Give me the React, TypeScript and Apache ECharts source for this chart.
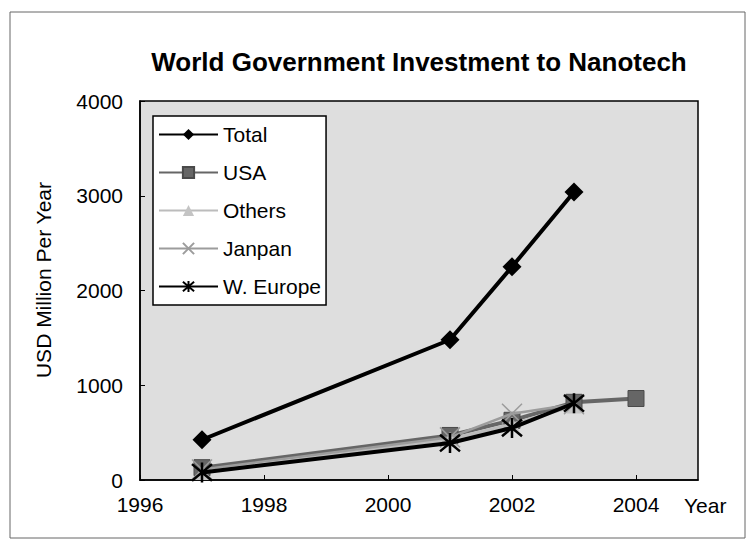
import React, { useEffect, useRef } from 'react';
import * as echarts from 'echarts';

// Government nanotech investment by region (USD million per year)
const years = [1997, 2001, 2002, 2003];
const usaYears = [1997, 2001, 2002, 2003, 2004];
const totalValues = [425, 1480, 2250, 3040];
const usaValues = [130, 470, 630, 820, 860];
const othersValues = [80, 430, 590, 780];
const japanValues = [110, 450, 700, 800];
const westEuropeValues = [80, 390, 550, 810];
const seriesNames = ['Total', 'USA', 'Others', 'Janpan', 'W. Europe'];

const FONT = '"Liberation Sans", Arial, sans-serif';

const pairs = (xs: number[], ys: number[]) => xs.map((x, i) => [x, ys[i]]);

const CROSS = 'path://M0,0L10,10M10,0L0,10';
const STAR = 'path://M0,0L10,10M10,0L0,10M5,-1L5,11';

export default function App() {
  const ref = useRef<HTMLDivElement>(null);

  useEffect(() => {
    if (!ref.current) return;
    const chart = echarts.init(ref.current, undefined, { renderer: 'svg' });
    chart.setOption({
      animation: false,
      backgroundColor: '#ffffff',
      textStyle: { fontFamily: FONT },
      grid: {
        left: 140,
        top: 101,
        right: 49,
        bottom: 60,
        show: true,
        backgroundColor: '#dedede',
        borderColor: '#000000',
        borderWidth: 1.5,
      },
      xAxis: {
        type: 'value',
        min: 1996,
        max: 2005,
        interval: 2,
        axisLine: { show: true, onZero: false, lineStyle: { color: '#000', width: 1.5 } },
        axisTick: { show: true, inside: true, length: 5, lineStyle: { color: '#000' } },
        splitLine: { show: false },
        axisLabel: {
          margin: 14,
          fontSize: 21,
          color: '#000',
          fontFamily: FONT,
          showMaxLabel: false,
          formatter: (v: number) => String(v),
        },
      },
      yAxis: {
        type: 'value',
        min: 0,
        max: 4000,
        interval: 1000,
        axisLine: { show: true, lineStyle: { color: '#000', width: 1.5 } },
        axisTick: { show: true, inside: true, length: 5, lineStyle: { color: '#000' } },
        splitLine: { show: false },
        axisLabel: {
          margin: 17,
          fontSize: 21,
          color: '#000',
          fontFamily: FONT,
          formatter: (v: number) => String(v),
        },
      },
      legend: {
        orient: 'vertical',
        left: 153,
        top: 116,
        padding: [8, 5, 8, 5],
        itemWidth: 59,
        itemHeight: 14,
        itemGap: 17,
        backgroundColor: '#ffffff',
        borderColor: '#000000',
        borderWidth: 1.5,
        textStyle: { fontSize: 21, lineHeight: 21, color: '#000', fontFamily: FONT },
        data: seriesNames,
      },
      graphic: [
        {
          type: 'rect',
          shape: { x: 10, y: 12, width: 735, height: 526 },
          style: { fill: 'none', stroke: '#666', lineWidth: 1 },
          silent: true,
        },
        {
          type: 'text',
          x: 419,
          y: 62,
          style: {
            text: 'World Government Investment to Nanotech',
            fontFamily: FONT,
            fontSize: 26,
            fontWeight: 'bold',
            fill: '#000',
            align: 'center',
            verticalAlign: 'middle',
          },
        },
        {
          type: 'text',
          x: 43,
          y: 280,
          rotation: Math.PI / 2,
          style: {
            text: 'USD Million Per Year',
            fontFamily: FONT,
            fontSize: 21,
            fill: '#000',
            align: 'center',
            verticalAlign: 'middle',
          },
        },
        {
          type: 'text',
          x: 684,
          y: 505,
          style: {
            text: 'Year',
            fontFamily: FONT,
            fontSize: 21,
            fill: '#000',
            align: 'left',
            verticalAlign: 'middle',
          },
        },
      ],
      series: [
        {
          name: 'Total',
          type: 'line',
          data: pairs(years, totalValues),
          symbol: 'diamond',
          symbolSize: 19,
          lineStyle: { color: '#000', width: 4 },
          itemStyle: { color: '#000' },
          z: 5,
        },
        {
          name: 'USA',
          type: 'line',
          data: pairs(usaYears, usaValues),
          symbol: 'rect',
          symbolSize: 16,
          lineStyle: { color: '#666666', width: 4 },
          itemStyle: { color: '#666666', borderColor: '#4a4a4a', borderWidth: 1 },
          z: 2,
        },
        {
          name: 'Others',
          type: 'line',
          data: pairs(years, othersValues),
          symbol: 'triangle',
          symbolSize: 15,
          lineStyle: { color: '#bcbcbc', width: 3 },
          itemStyle: { color: '#c4c4c4' },
          z: 3,
        },
        {
          name: 'Janpan',
          type: 'line',
          data: pairs(years, japanValues),
          symbol: CROSS,
          symbolSize: 20,
          lineStyle: { color: '#9c9c9c', width: 2.5 },
          itemStyle: { color: 'none', borderColor: '#9c9c9c', borderWidth: 1.5 },
          z: 3,
        },
        {
          name: 'W. Europe',
          type: 'line',
          data: pairs(years, westEuropeValues),
          symbol: STAR,
          symbolSize: 20,
          lineStyle: { color: '#000', width: 4 },
          itemStyle: { color: 'none', borderColor: '#000', borderWidth: 2.5 },
          z: 4,
        },
      ],
    });
    return () => chart.dispose();
  }, []);

  return (
    <div
      ref={ref}
      style={{ position: 'fixed', left: 0, top: 0, width: 747, height: 540 }}
    />
  );
}
